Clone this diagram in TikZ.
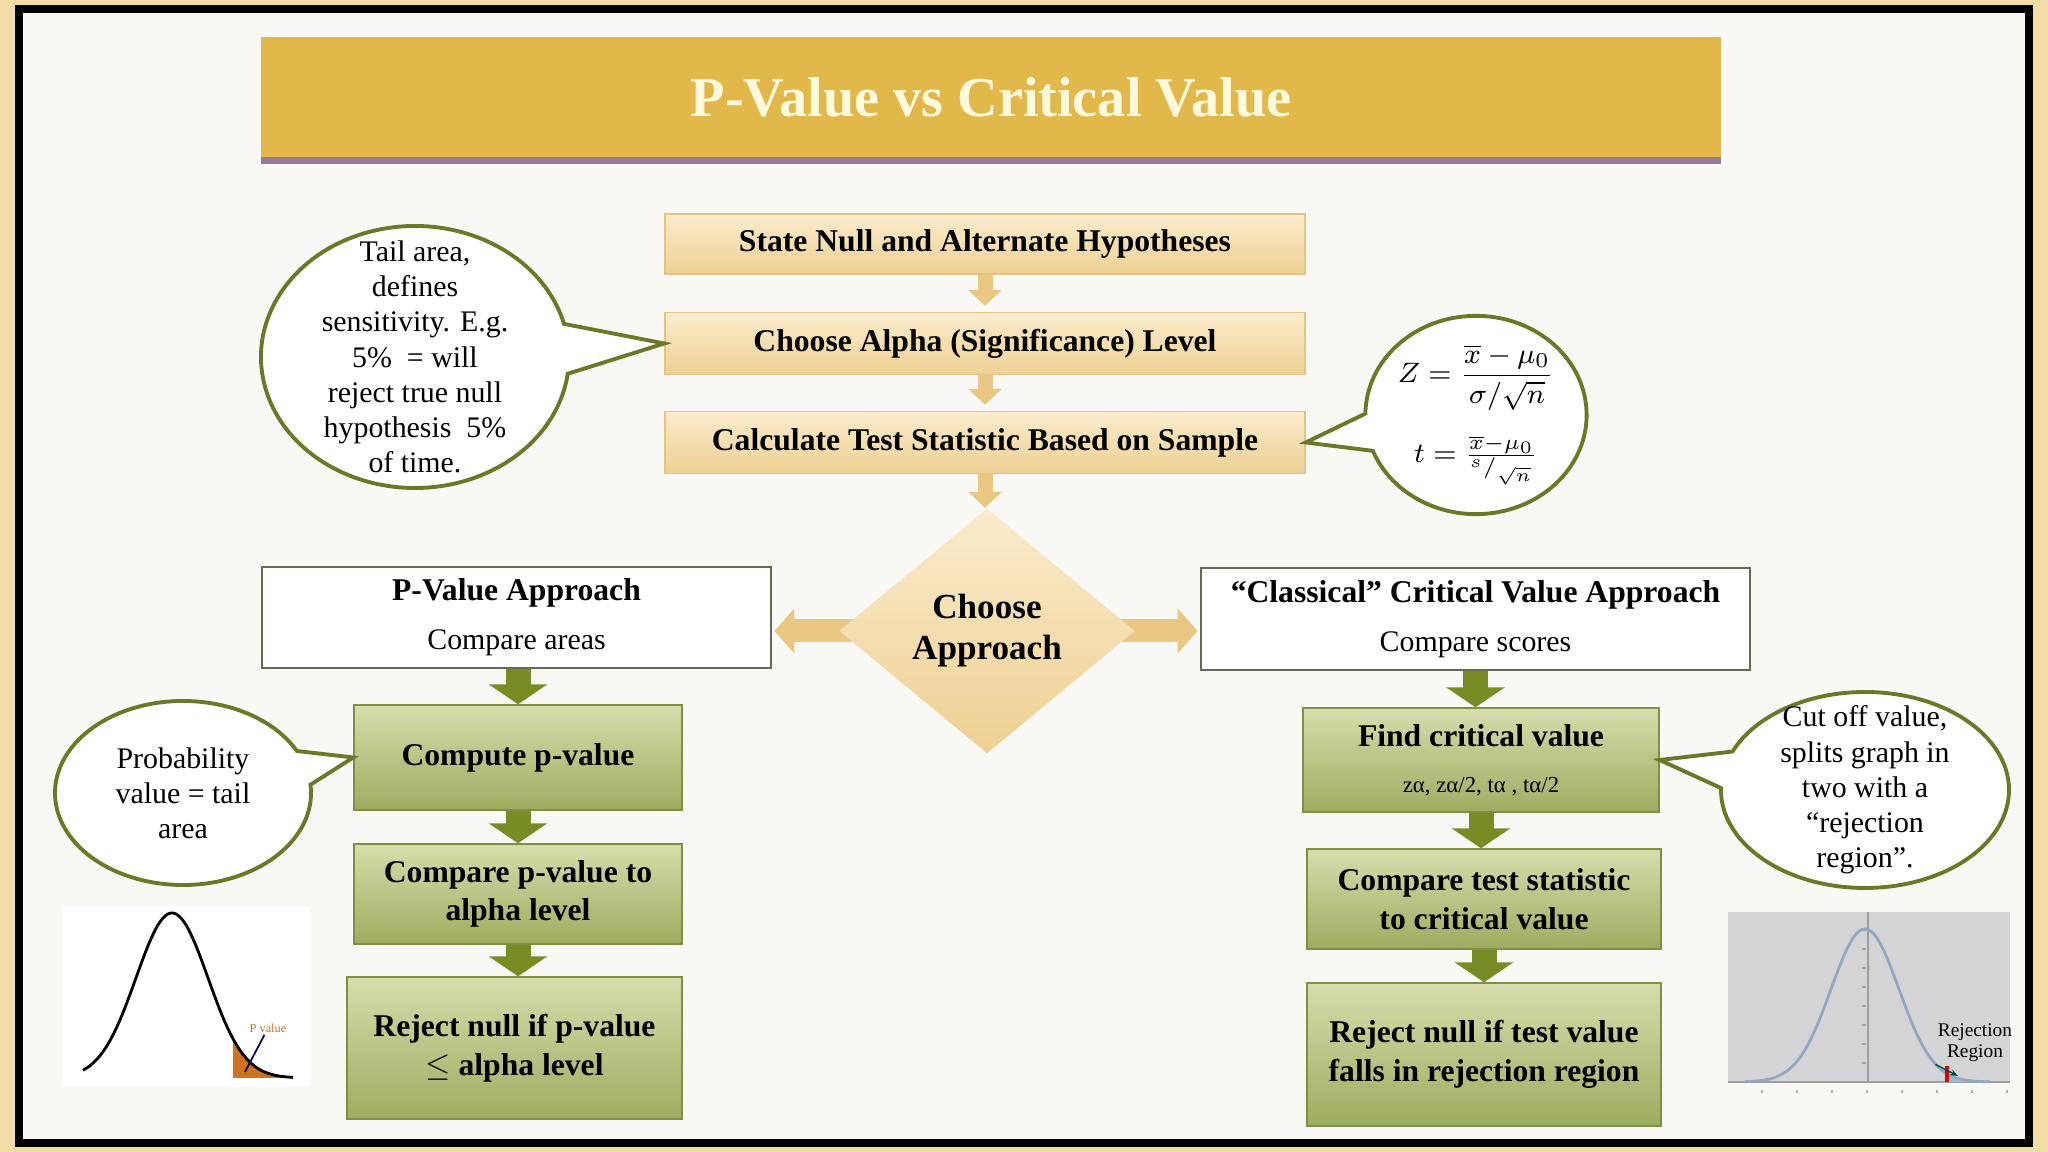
\documentclass[tikz,border=0pt]{standalone}
\usepackage{fontspec}
\setmainfont{Liberation Serif}
\usepackage{amsmath}
\usetikzlibrary{arrows.meta,shapes.geometric,shapes.callouts,shadows}
\definecolor{pageGold}{RGB}{243,221,165}
\definecolor{paper}{RGB}{249,248,245}
\definecolor{bannerGold}{RGB}{226,184,74}
\definecolor{titleCream}{RGB}{255,249,222}
\definecolor{tanTop}{RGB}{251,236,205}
\definecolor{tanBot}{RGB}{238,208,146}
\definecolor{tanEdge}{RGB}{226,196,132}
\definecolor{tanArrow}{RGB}{234,200,132}
\definecolor{greenTop}{RGB}{214,221,172}
\definecolor{greenBot}{RGB}{158,172,96}
\definecolor{greenEdge}{RGB}{128,142,70}
\definecolor{greenArrow}{RGB}{120,140,38}
\definecolor{noteEdge}{RGB}{108,120,40}
\definecolor{plainEdge}{RGB}{105,105,85}
\definecolor{tailOrange}{RGB}{208,112,32}
\definecolor{plotGray}{RGB}{212,212,214}
\definecolor{curveBlue}{RGB}{150,166,192}
\pgfdeclarelayer{sheet}
\pgfdeclarelayer{links}
\pgfsetlayers{sheet,links,main}
\tikzset{
    every node/.append style={align=center},
    stepbox/.style={rectangle,draw=tanEdge,top color=tanTop,bottom color=tanBot,
        minimum width=6.4cm,minimum height=0.62cm,font=\fontsize{9}{11}\selectfont\bfseries},
    greenbox/.style={rectangle,draw=greenEdge,top color=greenTop,bottom color=greenBot,
        font=\fontsize{9}{11}\selectfont\bfseries},
    approach/.style={rectangle,draw=plainEdge,line width=0.8pt,fill=white,
        font=\fontsize{8.5}{10}\selectfont},
    note/.style={ellipse callout,draw=noteEdge,line width=1.1pt,fill=white,
        callout pointer arc=22,inner sep=0pt,font=\fontsize{8.5}{10}\selectfont},
    tarr/.style={draw=tanArrow,line width=0.15cm,-{Triangle[width=0.33cm,length=0.16cm]}},
    garr/.style={draw=greenArrow,line width=0.25cm,-{Triangle[width=0.58cm,length=0.2cm]}},
    sidearr/.style={draw=tanArrow,line width=0.23cm,-{Triangle[width=0.44cm,length=0.2cm]}}
}

\begin{document}
\begin{tikzpicture}
    % slide and frame
    \begin{pgfonlayer}{sheet}
        \fill[pageGold] (0,0) rectangle (20.48,11.52);
        \draw[line width=0.08cm,fill=paper] (0.19,0.09) rectangle (20.29,11.43);
    \end{pgfonlayer}
    \useasboundingbox (0,0) rectangle (20.48,11.52);

    \node[fill=bannerGold,minimum width=14.6cm,minimum height=1.2cm,text=titleCream,
        font=\fontsize{16}{18}\selectfont\bfseries,
        drop shadow={opacity=0.5,shadow xshift=0pt,shadow yshift=-0.07cm,fill=black!60!violet}]
        (title) at (9.91,10.55) {P-Value vs Critical Value};

    % main steps
    \node[stepbox,minimum height=0.60cm] (hyp) at (9.85,9.08) {State Null and Alternate Hypotheses};
    \node[stepbox] (alpha) at (9.85,8.085) {Choose Alpha (Significance) Level};
    \node[stepbox] (stat) at (9.85,7.095) {Calculate Test Statistic Based on Sample};
    \node[diamond,top color=tanTop,bottom color=tanBot,minimum width=2.96cm,minimum height=2.45cm,
        inner sep=0pt,font=\fontsize{10}{11.7}\selectfont\bfseries] (choose) at (9.87,5.21) {Choose\\Approach};

    \node[approach,minimum width=5.09cm,minimum height=0.99cm] (pva) at (5.165,5.345)
        {\textbf{\fontsize{9}{10}\selectfont P-Value Approach}\\[4pt]Compare areas};
    \node[approach,minimum width=5.49cm,minimum height=1.02cm] (cva) at (14.755,5.33)
        {\textbf{\fontsize{9}{10}\selectfont “Classical” Critical Value Approach}\\[4pt]Compare scores};

    % p-value branch
    \node[greenbox,minimum width=3.28cm,minimum height=1.05cm] (cpv) at (5.18,3.945) {Compute p-value};
    \node[greenbox,minimum width=3.28cm,minimum height=1.00cm] (cmpa) at (5.18,2.58) {Compare p-value to\\alpha level};
    \node[greenbox,minimum width=3.35cm,minimum height=1.42cm] (rejp) at (5.145,1.04) {Reject null if p-value\\$\leq$ alpha level};

    % critical value branch
    \node[greenbox,minimum width=3.56cm,minimum height=1.04cm] (fcv) at (14.81,3.92)
        {Find critical value\\[2pt]{\fontsize{6.5}{7}\selectfont\mdseries zα, zα/2, tα , tα/2}};
    \node[greenbox,minimum width=3.54cm,minimum height=1.00cm] (cmpt) at (14.84,2.53) {Compare test statistic\\to critical value};
    \node[greenbox,minimum width=3.54cm,minimum height=1.43cm] (rejt) at (14.84,0.975) {Reject null if test value\\falls in rejection region};

    % callouts
    \node[note,minimum width=3.08cm,minimum height=2.62cm,inner ysep=-0.35cm,
        callout absolute pointer={(alpha.west)}] (tailnote) at (4.15,7.95)
        {Tail area,\\defines\\sensitivity. E.g.\\5\% ~= will\\reject true null\\hypothesis ~5\%\\of time.};
    \node[note,minimum width=2.0cm,minimum height=1.84cm,
        callout absolute pointer={(stat.east)}] (formnote) at (14.76,7.37)
        {$Z=\dfrac{\overline{x}-\mu_0}{\sigma/\sqrt{n}}$\\[6pt]$t=\frac{\overline{x}-\mu_0}{{}^{s}/_{\sqrt{n}}}$};
    \node[note,minimum width=2.56cm,minimum height=1.84cm,
        callout absolute pointer={(cpv.west)}] (probnote) at (1.83,3.59)
        {Probability\\value = tail\\area};
    \node[note,minimum width=2.88cm,minimum height=1.96cm,inner ysep=-0.2cm,
        callout absolute pointer={(fcv.east)}] (cutnote) at (18.65,3.62)
        {Cut off value,\\splits graph in\\two with a\\“rejection\\region”.};

    % arrows
    \begin{pgfonlayer}{links}
        \draw[tarr,shorten >=0.06cm] (hyp.south) -- (alpha.north);
        \draw[tarr,shorten >=0.06cm] (alpha.south) -- (stat.north);
        \draw[tarr] (stat.south) -- (stat.south |- choose.north);
        \draw[sidearr,shorten <=-0.3cm,shorten >=0.02cm] (choose.west) -- (choose.west -| pva.east);
        \draw[sidearr,shorten <=-0.3cm,shorten >=0.02cm] (choose.east) -- (choose.east -| cva.west);
        \draw[garr] (pva.south -| cpv.north) -- (cpv.north);
        \draw[garr] (cpv.south) -- (cmpa.north);
        \draw[garr] (cmpa.south) -- (cmpa.south |- rejp.north);
        \draw[garr] (cva.south) -- (cva.south |- fcv.north);
        \draw[garr] (fcv.south) -- (fcv.south |- cmpt.north);
        \draw[garr] (cmpt.south) -- (rejt.north);
    \end{pgfonlayer}

    % p-value curve
    \fill[white] (0.62,0.65) rectangle (3.10,2.45);
    \fill[tailOrange] (2.33,0.74) -- plot[domain=2.33:2.93,samples=20]
        (\x,{0.74+1.65*exp(-((\x-1.72)/0.36)^2/2)}) -- (2.93,0.74) -- cycle;
    \draw[line width=0.8pt] plot[domain=0.83:2.93,samples=80,smooth]
        (\x,{0.74+1.65*exp(-((\x-1.72)/0.36)^2/2)});
    \node[text=tailOrange,font=\fontsize{3.5}{4}\selectfont,inner sep=0.5pt] (pvlbl) at (2.68,1.24) {P value};
    \coordinate (pvtip) at (2.45,0.80);
    \draw[blue!40!black,line width=0.5pt] (pvlbl) -- (pvtip);

    % rejection region plot
    \fill[plotGray] (17.28,0.70) rectangle (20.10,2.40);
    \draw[gray!75] (17.28,0.70) -- (20.10,0.70);
    \draw[gray!75] (18.68,0.70) -- (18.68,2.40);
    \foreach \k in {0,...,7}
        \draw[gray!60,line width=0.4pt] (17.62+0.35*\k,0.62) -- ++(0,-0.03);
    \foreach \k in {1,...,8}
        \draw[gray!70,line width=0.4pt] (18.62,0.70+0.19*\k) -- ++(0.04,0);
    \fill[teal!45] (19.49,0.70) -- plot[domain=19.49:19.78,samples=10]
        (\x,{0.70+1.53*exp(-((\x-18.65)/0.34)^2/2)}) -- (19.78,0.70) -- cycle;
    \draw[curveBlue,line width=0.8pt] plot[domain=17.45:19.90,samples=80,smooth]
        (\x,{0.70+1.53*exp(-((\x-18.65)/0.34)^2/2)});
    \fill[red!85!black] (19.45,0.70) rectangle (19.49,0.86);
    \node[font=\fontsize{5.5}{6}\selectfont,inner sep=0.5pt] (rejlbl) at (19.75,1.09) {Rejection\\Region};
    \coordinate (rejtip) at (19.58,0.76);
    \draw[teal!60!black,line width=0.4pt,-{Stealth[length=0.8mm]}] (rejlbl.south west) -- (rejtip);
\end{tikzpicture}
\end{document}
